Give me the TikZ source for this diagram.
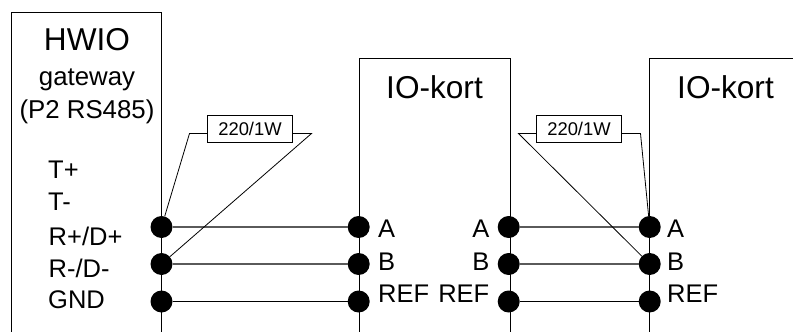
\documentclass[tikz,border=0pt]{standalone}
\usepackage{fontspec}
\setmainfont{Liberation Sans}
\usepackage{xcolor}
\usetikzlibrary{positioning}
\definecolor{wiregray}{RGB}{90,90,90}

\begin{document}
\begin{tikzpicture}[
    x=1pt,y=-1pt,
    terminal/.style={circle,fill=black,inner sep=0pt,minimum size=22pt},
    resistor/.style={draw,line width=0.9pt,inner sep=0pt,minimum width=85pt,minimum height=27pt,font=\fontsize{18.4}{18.4}\selectfont},
    title/.style={inner sep=0pt,anchor=base,font=\fontsize{31.6}{31.6}\selectfont},
    subtitle/.style={inner sep=0pt,anchor=base,font=\fontsize{25.8}{25.8}\selectfont},
    pinleft/.style={inner sep=0pt,anchor=base west,font=\fontsize{25.5}{25.5}\selectfont},
    pinright/.style={inner sep=0pt,anchor=base east,font=\fontsize{25.5}{25.5}\selectfont},
    wire/.style={line width=1.3pt,wiregray},
    rail/.style={line width=0.9pt},
    lead/.style={line width=0.8pt}
]
\useasboundingbox (0,0) rectangle (793,332);

% Card outlines
\coordinate (hwiotl) at (11,12);
\coordinate (hwiotr) at (161.5,12);
\coordinate (hwiobl) at (11,332);
\coordinate (hwiobr) at (161.5,332);
\coordinate (ioatl) at (359.5,58);
\coordinate (ioatr) at (510.3,58);
\coordinate (ioabl) at (359.5,332);
\coordinate (ioabr) at (510.3,332);
\coordinate (iobtl) at (649.7,58);
\coordinate (iobtr) at (793,58);
\coordinate (iobbl) at (649.7,332);
\draw[rail] (hwiobl) -- (hwiotl) -- (hwiotr) -- (hwiobr);
\draw[rail] (ioabl) -- (ioatl) -- (ioatr) -- (ioabr);
\draw[rail] (iobbl) -- (iobtl) -- (iobtr);

% Terminals
\node[terminal] (hwioa) at (161.5,227) {};
\node[terminal] (hwiob) at (161.5,264) {};
\node[terminal] (hwioref) at (161.5,301.5) {};
\node[terminal] (ioaa) at (358.7,227) {};
\node[terminal] (ioab) at (358.7,264) {};
\node[terminal] (ioaref) at (358.7,301.5) {};
\node[terminal] (ioba) at (508.7,227) {};
\node[terminal] (iobb) at (508.7,264) {};
\node[terminal] (iobref) at (508.7,301.5) {};
\node[terminal] (ioca) at (649.7,227) {};
\node[terminal] (iocb) at (649.7,264) {};
\node[terminal] (iocref) at (649.7,301.5) {};

% Bus wires
\draw[wire] (hwioa) -- (ioaa);
\draw[wire] (hwiob) -- (ioab);
\draw[rail] (hwioref) -- (ioaref);
\draw[wire] (ioba) -- (ioca);
\draw[wire] (iobb) -- (iocb);
\draw[rail] (iobref) -- (iocref);

% Termination resistors
\node[resistor] (resa) at (250,128.5) {220/1W};
\node[resistor] (resb) at (579,128.5) {220/1W};
\coordinate (resal) at (189.5,133.5);
\coordinate (resar) at (311.5,133.5);
\coordinate (resbl) at (518.5,133.5);
\coordinate (resbr) at (640.5,133.5);
\draw[lead] (resa.west |- resal) -- (resal) -- (hwioa);
\draw[lead] (resa.east |- resar) -- (resar) -- (hwiob);
\draw[lead] (resb.west |- resbl) -- (resbl) -- (iocb);
\draw[lead] (resb.east |- resbr) -- (resbr) -- (ioca);

% HWIO labels
\node[title] (hwiotitle) at (87,50) {HWIO};
\node[subtitle] (hwiogw) at (87,85.5) {gateway};
\node[subtitle] (hwioport) at (87,118.5) {(P2 RS485)};
\node[pinleft] (tplus) at (48,178) {T+};
\node[pinleft] (tminus) at (48,210) {T-};
\node[pinleft] (rplus) at (48.5,245) {R+/D+};
\node[pinleft] (rminus) at (48.5,277) {R-/D-};
\node[pinleft] (gnd) at (48,308) {GND};

% IO card labels
\node[title] (ioatitle) at (434.5,98) {IO-kort};
\node[title] (iobtitle) at (725.5,98) {IO-kort};
\node[pinleft] (laba) at (378,237.5) {A};
\node[pinleft] (labb) at (378,270.5) {B};
\node[pinleft] (labref) at (378,302) {REF};
\node[pinright] (labba) at (489.5,237.5) {A};
\node[pinright] (labbb) at (489.5,270.5) {B};
\node[pinright] (labbref) at (489.5,302) {REF};
\node[pinleft] (labca) at (667,237.5) {A};
\node[pinleft] (labcb) at (667,270.5) {B};
\node[pinleft] (labcref) at (667,302) {REF};

\end{tikzpicture}
\end{document}
